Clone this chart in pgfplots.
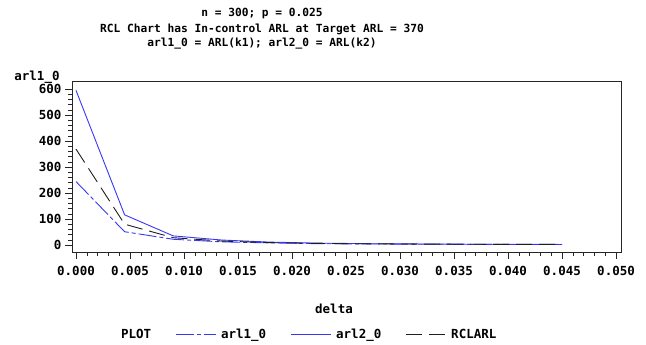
\documentclass[border=0pt]{standalone}
\usepackage{fontspec}
\setmainfont{DejaVu Sans Mono}
\usepackage{pgfplots}
\pgfplotsset{compat=1.18}
\definecolor{sasblue}{RGB}{55,55,245}
\definecolor{sasblack}{RGB}{30,30,30}
\newcommand{\lf}{\bfseries\fontsize{12.5}{13}\selectfont}
\newcommand{\tf}{\bfseries\fontsize{11.2}{12}\selectfont}
\begin{document}
\begin{tikzpicture}
\useasboundingbox (0,0) rectangle (646pt,345pt);
\begin{axis}[
  at={(72pt,93pt)}, anchor=south west,
  scale only axis, width=549pt, height=171pt,
  xmin=-0.00037, xmax=0.05046, ymin=-27, ymax=631,
  xtick={0,0.005,0.010,0.015,0.020,0.025,0.030,0.035,0.040,0.045,0.050},
  ytick={0,100,200,300,400,500,600},
  minor x tick num=4, minor y tick num=4,
  tick align=outside, tick pos=left,
  major tick length=7pt, minor tick length=4pt,
  every tick/.style={black!85},
  axis line style={black!85},
  scaled x ticks=false,
  /pgf/number format/assume math mode=true,
  xticklabel style={font=\lf, yshift=-4pt, /pgf/number format/.cd, fixed, fixed zerofill, precision=3},
  yticklabel style={font=\lf, /pgf/number format/.cd, fixed},
  legend columns=4,
  legend image code/.code={\draw[#1] (0pt,0pt) -- (40pt,0pt);},
  legend style={at={(0.080,-0.485)}, anchor=west, draw=none, fill=none, font=\lf,
    inner sep=0pt,
    /tikz/every odd column/.style={column sep=3pt},
    /tikz/every even column/.style={column sep=22pt}},
]
\addlegendimage{empty legend}
\addlegendentry{PLOT}
\addplot[sasblue, line width=0.9pt, dash pattern=on 18pt off 3pt on 4pt off 3pt] coordinates {
 (0,244) (0.0045,51) (0.009,22) (0.0135,12) (0.018,8) (0.0225,5) (0.027,4) (0.0315,3) (0.036,2.5) (0.0405,2) (0.045,1.8)};
\addlegendentry{arl1\_0}
\addplot[sasblue, line width=0.9pt] coordinates {
 (0,595) (0.0045,116) (0.009,35) (0.0135,19) (0.018,11) (0.0225,7) (0.027,5) (0.0315,4) (0.036,3) (0.0405,2.5) (0.045,2)};
\addlegendentry{arl2\_0}
\addplot[sasblack, line width=0.9pt, dash pattern=on 16pt off 7pt] coordinates {
 (0,369) (0.0045,80) (0.009,28) (0.0135,15) (0.018,9) (0.0225,6) (0.027,4.5) (0.0315,3.5) (0.036,2.8) (0.0405,2.3) (0.045,2)};
\addlegendentry{RCLARL}
\end{axis}
\node[font=\tf] at (262pt,331pt) {n = 300; p = 0.025};
\node[font=\tf] at (262pt,316pt) {RCL Chart has In-control ARL at Target ARL = 370};
\node[font=\tf] at (262pt,301pt) {arl1\_0 = ARL(k1); arl2\_0 = ARL(k2)};
\node[font=\lf] at (37pt,268pt) {arl1\_0};
\node[font=\lf] at (334pt,36pt) {delta};
\end{tikzpicture}
\end{document}
